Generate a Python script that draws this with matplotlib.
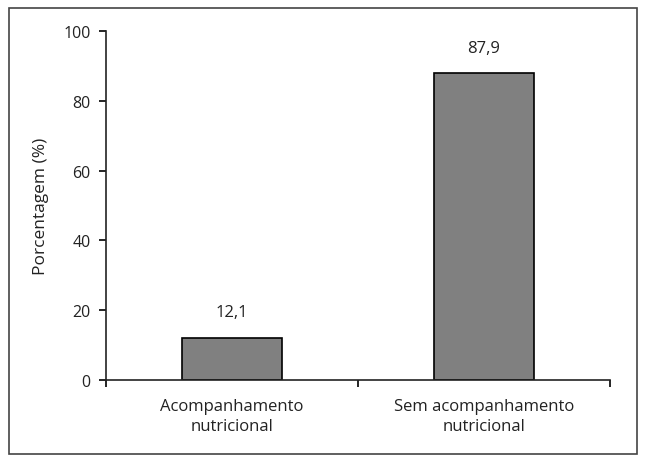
import matplotlib
matplotlib.use("Agg")
import matplotlib.pyplot as plt
from matplotlib.patches import Rectangle

categories = ["Acompanhamento\nnutricional", "Sem acompanhamento\nnutricional"]
values = [12.1, 87.9]
value_labels = ["12,1", "87,9"]
yticks = [0, 20, 40, 60, 80, 100]

plt.rcParams['font.family'] = ['Open Sans', 'DejaVu Sans']

fig = plt.figure(figsize=(6.46, 4.64), dpi=100)
# outer frame around the whole chart
fig.patches.append(Rectangle((9/646, 9/464), 628/646, 446/464, transform=fig.transFigure,
                             fill=False, edgecolor='#444444', linewidth=1.2))

ax = fig.add_axes([106/646, 83/464, 504/646, 349/464])
pos = [0.5, 1.5]
ax.bar(pos, values, width=0.4, color='#808080', edgecolor='black', linewidth=1.2, zorder=2)
for x, v, lab in zip(pos, values, value_labels):
    ax.text(x, v + 5, lab, ha='center', va='bottom', fontsize=12, color='#222222')

ax.set_xlim(0, 2)
ax.set_ylim(0, 100)
ax.set_yticks(yticks)
ax.set_yticklabels([str(t) for t in yticks], fontsize=11.5, color='#222222')
ax.set_xticks([0, 1, 2])
ax.set_xticklabels([])
ax.set_xticks(pos, minor=True)
ax.set_xticklabels(categories, minor=True, fontsize=12, color='#222222', linespacing=1.35)
ax.tick_params(axis='x', which='minor', length=0, pad=13)
ax.tick_params(axis='x', which='major', length=5, direction='out', width=1.2)
ax.tick_params(axis='y', length=5, width=1.2, pad=6)
ax.set_ylabel("Porcentagem (%)", fontsize=12.5, color='#222222', labelpad=10)

for s in ['top', 'right']:
    ax.spines[s].set_visible(False)
for s in ['left', 'bottom']:
    ax.spines[s].set_linewidth(1.2)
    ax.spines[s].set_color('#222222')

fig.savefig("out.png", dpi=100)
